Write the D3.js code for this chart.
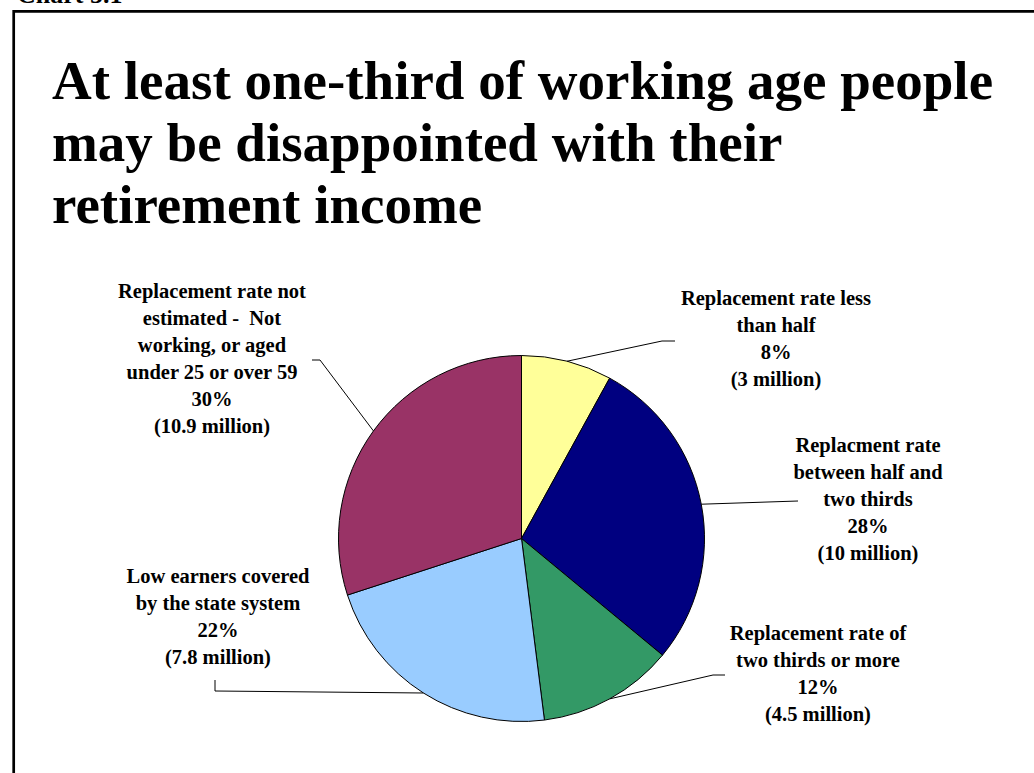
<!DOCTYPE html>
<html>
<head>
<meta charset="utf-8">
<script src="https://cdn.jsdelivr.net/npm/d3@7"></script>
<style>
  html, body { margin: 0; padding: 0; background: #fff; }
  svg { display: block; }
  text { font-family: "Liberation Serif", "Times New Roman", serif; font-weight: bold; fill: #000; white-space: pre; }
</style>
</head>
<body>
<script>
// ---- data ----
const categories = [
  "Replacement rate less than half",
  "Replacment rate between half and two thirds",
  "Replacement rate of two thirds or more",
  "Low earners covered by the state system",
  "Replacement rate not estimated -  Not working, or aged under 25 or over 59"
];
// label wrapping, one entry per category
const labelLines = [
  ["Replacement rate less", "than half"],
  ["Replacment rate", "between half and", "two thirds"],
  ["Replacement rate of", "two thirds or more"],
  ["Low earners covered", "by the state system"],
  ["Replacement rate not", "estimated -  Not", "working, or aged", "under 25 or over 59"]
];
const shares = [8, 28, 12, 22, 30];          // per cent of working age people
const millions = [3, 10, 4.5, 7.8, 10.9];    // people, millions
const colors = ["#FFFF99", "#000080", "#339966", "#99CCFF", "#993366"];
const titleLines = [
  "At least one-third of working age people",
  "may be disappointed with their",
  "retirement income"
];

// ---- layout ----
const W = 1034, H = 773;
const cx = 521.5, cy = 538.5, R = 183;
const lineH = 27;
// label block centre x, first baseline y, and leader elbow points
const labelLayout = [
  { x: 776, y: 305, elbow: [[662, 341], [675, 341]] },
  { x: 868, y: 452, elbow: [[798, 501]] },
  { x: 818, y: 640, elbow: [[713, 675], [725, 675]] },
  { x: 218, y: 583, elbow: [[215, 691], [215, 680]] },
  { x: 212, y: 298, elbow: [[320, 360], [312, 360]] }
];

const svg = d3.select("body").append("svg")
  .attr("width", W).attr("height", H);

// caption above the frame
svg.append("text").attr("x", 17).attr("y", 3)
  .style("font-size", "26px").text("Chart 5.1");

// frame
svg.append("path")
  .attr("d", `M13.7,${H} L13.7,11.3 L${W},11.3`)
  .attr("fill", "none").attr("stroke", "#000").attr("stroke-width", 2.7);

// title
const title = svg.append("text").style("font-size", "55px");
titleLines.forEach((t, i) => {
  title.append("tspan").attr("x", 52).attr("y", 99 + i * 62).text(t);
});

// pie
const pie = d3.pie().sort(null).value(d => d)
  .startAngle(0).endAngle(2 * Math.PI);
const arcs = pie(shares);
const arc = d3.arc().innerRadius(0).outerRadius(R);

const g = svg.append("g").attr("transform", `translate(${cx},${cy})`);
g.selectAll("path.slice")
  .data(arcs)
  .join("path")
  .attr("class", "slice")
  .attr("d", arc)
  .attr("fill", (d, i) => colors[i])
  .attr("stroke", "#000")
  .attr("stroke-width", 1)
  .attr("stroke-linejoin", "round");

// leader lines from each slice's outer mid-point
arcs.forEach((d, i) => {
  const a = (d.startAngle + d.endAngle) / 2;
  const p0 = [cx + R * Math.sin(a), cy - R * Math.cos(a)];
  const pts = [p0].concat(labelLayout[i].elbow);
  svg.append("path")
    .attr("d", d3.line()(pts))
    .attr("fill", "none")
    .attr("stroke", "#000")
    .attr("stroke-width", 1);
});

// labels
const fmtM = v => `(${v} million)`;
labelLines.forEach((lines, i) => {
  const L = labelLayout[i];
  const all = lines.concat([`${shares[i]}%`, fmtM(millions[i])]);
  const t = svg.append("text")
    .attr("text-anchor", "middle")
    .style("font-size", "20.5px");
  all.forEach((s, j) => {
    t.append("tspan").attr("x", L.x).attr("y", L.y + j * lineH).text(s);
  });
});
</script>
</body>
</html>
